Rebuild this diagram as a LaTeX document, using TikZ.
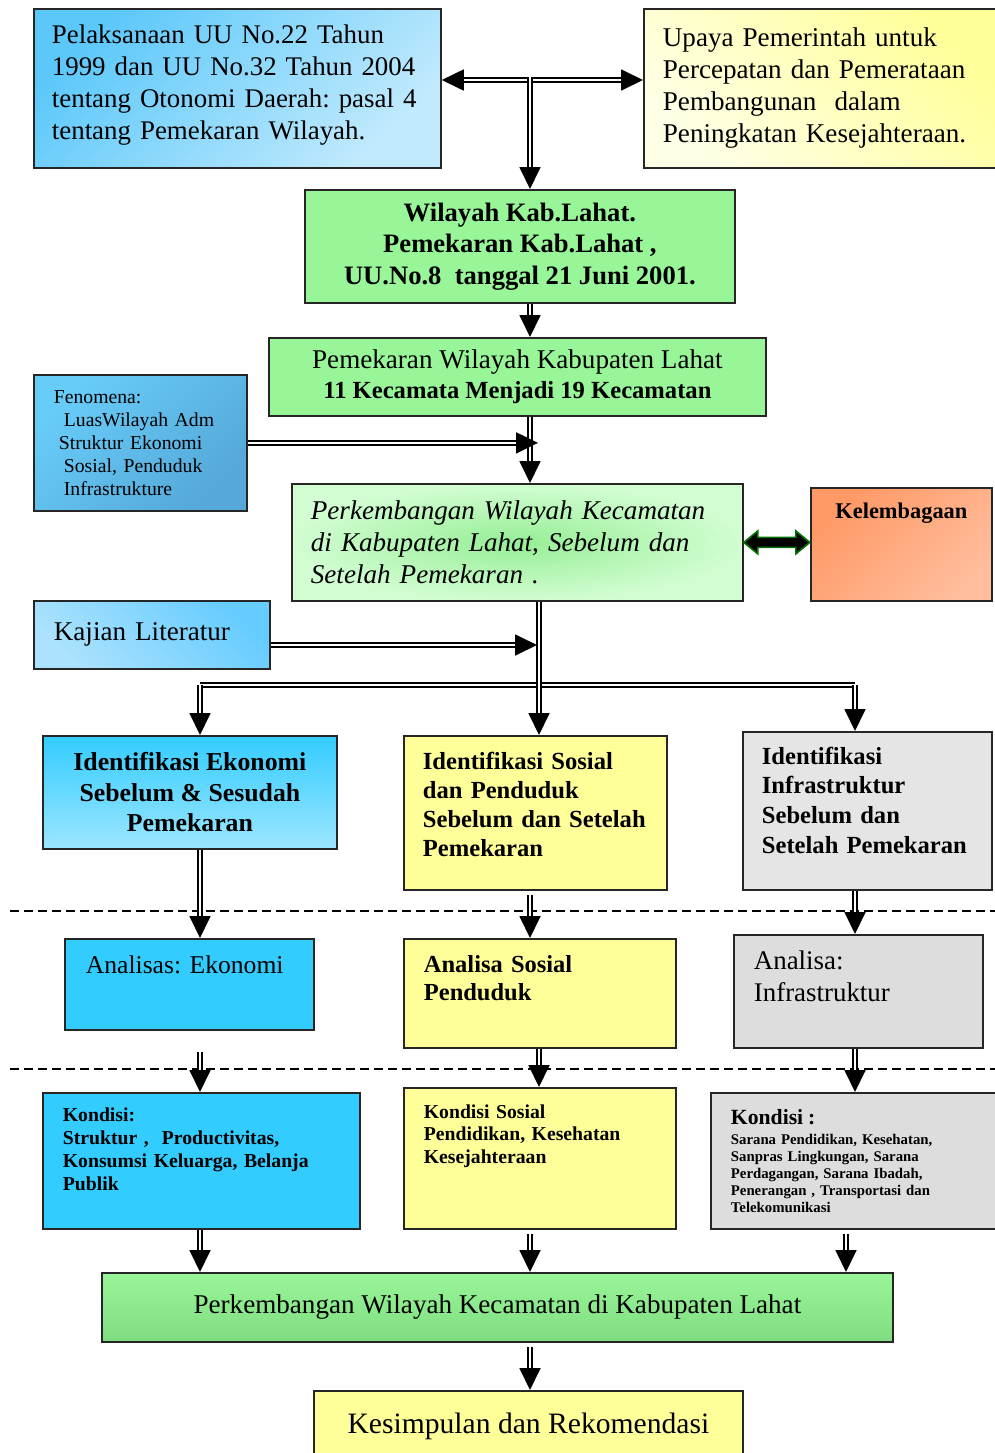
\documentclass[tikz,border=0pt]{standalone}
\usepackage{fontspec}
\setmainfont{Liberation Serif}
\usetikzlibrary{arrows.meta,positioning}
\definecolor{skyA}{HTML}{5CC8FA}
\definecolor{skyB}{HTML}{C2EAFD}
\definecolor{lemon}{HTML}{FFFF99}
\definecolor{lemonL}{HTML}{FFFFE6}
\definecolor{mint}{HTML}{98F598}
\definecolor{mintD}{HTML}{80DC80}
\definecolor{mintM}{HTML}{96EE96}
\definecolor{mintL}{HTML}{D2FDD2}
\definecolor{fenA}{HTML}{68CCF8}
\definecolor{fenB}{HTML}{55A8D8}
\definecolor{peach}{HTML}{FF9966}
\definecolor{peachL}{HTML}{FFBD9C}
\definecolor{cyanA}{HTML}{33CCFF}
\definecolor{cyanB}{HTML}{9CE6FF}
\definecolor{kajA}{HTML}{ACE2FD}
\definecolor{kajB}{HTML}{66CCFF}
\definecolor{greyA}{HTML}{DDDDDD}
\definecolor{greyB}{HTML}{E5E5E5}
\newcommand{\topbox}[2]{\parbox[t][#1][t]{\linewidth}{#2}}
\frenchspacing
\begin{document}
\begin{tikzpicture}[x=0.5pt,y=-0.5pt,
  box/.style={draw=black!85,line width=0.9pt,anchor=north west,inner sep=0pt,align=left},
  dl/.style={double,double distance=1.2pt,line width=0.9pt},
  arr/.style={dl,-{Triangle[length=11pt,width=10.5pt]}},
  sep/.style={dash pattern=on 4.5pt off 2.5pt,line width=0.7pt}]
\useasboundingbox (0,0) rectangle (995,1453);
% boxes
\node[box,minimum width=203.5pt,minimum height=79.5pt,inner xsep=9pt,inner ysep=7.5pt,text width=185.5pt,
  top color=skyA,bottom color=skyB,shading angle=45,font=\fontsize{13.45}{16}\selectfont] (uu) at (33,8)
  {\topbox{64pt}{Pelaksanaan UU No.22 Tahun\\1999 dan UU No.32 Tahun 2004\\tentang Otonomi Daerah: pasal 4\\tentang Pemekaran Wilayah.}};
\node[box,minimum width=177pt,minimum height=79.5pt,inner xsep=9.5pt,text width=158pt,
  top color=lemon,bottom color=lemonL,shading angle=-45,font=\fontsize{13.55}{16}\selectfont] (up) at (643,8)
  {Upaya Pemerintah untuk\\Percepatan dan Pemerataan\\Pembangunan\ \ dalam\\Peningkatan Kesejahteraan.};
\node[box,minimum width=215pt,minimum height=56.5pt,align=center,fill=mint,
  font=\fontsize{13.3}{15.75}\selectfont\bfseries] (wil) at (304,189)
  {Wilayah Kab.Lahat.\\Pemekaran Kab.Lahat ,\\UU.No.8\ \ tanggal 21 Juni 2001.};
\node[box,minimum width=248.5pt,minimum height=39pt,align=center,fill=mint,
  font=\fontsize{13.55}{15}\selectfont] (pwk) at (268,337)
  {Pemekaran Wilayah Kabupaten Lahat\\\textbf{\fontsize{12.3}{15}\selectfont 11 Kecamata Menjadi 19 Kecamatan}};
\node[box,minimum width=106.5pt,minimum height=68pt,inner xsep=10pt,text width=86.5pt,
  top color=fenA,bottom color=fenB,shading angle=45,font=\fontsize{9.85}{11.5}\selectfont] (fen) at (33,374)
  {Fenomena:\\\hspace*{5pt}LuasWilayah Adm\\\hspace*{2.5pt}Struktur Ekonomi\\\hspace*{5pt}Sosial, Penduduk\\\hspace*{5pt}Infrastrukture};
\node[box,minimum width=225.5pt,minimum height=58.5pt,inner xsep=9.5pt,text width=206.5pt,
  inner color=mintM,outer color=mintL,font=\fontsize{13.55}{16}\selectfont\itshape] (pkw) at (291,483)
  {Perkembangan Wilayah Kecamatan\\di Kabupaten Lahat, Sebelum dan\\Setelah Pemekaran .};
\node[box,minimum width=90.5pt,minimum height=56.5pt,inner xsep=4pt,inner ysep=7.7pt,text width=82.5pt,
  top color=peach,bottom color=peachL,shading angle=45,font=\fontsize{11.2}{13}\selectfont\bfseries] (lem) at (810,487)
  {\topbox{41pt}{\centering Kelembagaan}};
\node[box,minimum width=118pt,minimum height=34pt,inner xsep=10pt,text width=98pt,
  top color=kajB,bottom color=kajA,shading angle=-45,font=\fontsize{13.55}{16}\selectfont] (kaj) at (33,600)
  {Kajian Literatur};
\node[box,minimum width=147pt,minimum height=56.5pt,align=center,top color=cyanA,bottom color=cyanB,
  font=\fontsize{12.9}{15.25}\selectfont\bfseries] (ie) at (42,735)
  {Identifikasi Ekonomi\\Sebelum \& Sesudah\\Pemekaran};
\node[box,minimum width=131.5pt,minimum height=77pt,inner xsep=9.5pt,inner ysep=7.9pt,text width=112.5pt,
  fill=lemon,font=\fontsize{12.3}{14.5}\selectfont\bfseries] (is) at (403,735)
  {\topbox{61pt}{Identifikasi Sosial\\dan Penduduk\\Sebelum dan Setelah\\Pemekaran}};
\node[box,minimum width=124.5pt,minimum height=79pt,inner xsep=9.5pt,inner ysep=7.4pt,text width=105.5pt,
  fill=greyB,font=\fontsize{12.3}{14.8}\selectfont\bfseries] (ii) at (742,731)
  {\topbox{64pt}{Identifikasi\\Infrastruktur\\Sebelum dan\\Setelah Pemekaran}};
\node[box,minimum width=124.5pt,minimum height=45.5pt,inner xsep=10.5pt,inner ysep=8.1pt,text width=103.5pt,
  fill=cyanA,font=\fontsize{12.8}{16}\selectfont] (ae) at (64,938)
  {\topbox{29pt}{Analisas: Ekonomi}};
\node[box,minimum width=136pt,minimum height=54.5pt,inner xsep=10pt,inner ysep=8.4pt,text width=116pt,
  fill=lemon,font=\fontsize{12.25}{14}\selectfont\bfseries] (as) at (403,938)
  {\topbox{37.5pt}{Analisa Sosial\\Penduduk}};
\node[box,minimum width=124.5pt,minimum height=56.5pt,inner xsep=10pt,inner ysep=7.7pt,text width=104.5pt,
  fill=greyA,font=\fontsize{13.45}{16}\selectfont] (ai) at (733,934)
  {\topbox{41pt}{Analisa:\\Infrastruktur}};
\node[box,minimum width=158.5pt,minimum height=68pt,inner xsep=10pt,inner ysep=7.1pt,text width=138.5pt,
  fill=cyanA,font=\fontsize{9.85}{11.5}\selectfont\bfseries] (ke) at (42,1092)
  {\topbox{53.5pt}{Kondisi:\\Struktur ,\ \ Productivitas,\\Konsumsi Keluarga, Belanja\\Publik}};
\node[box,minimum width=136pt,minimum height=70.5pt,inner xsep=10pt,inner ysep=8.1pt,text width=116pt,
  fill=lemon,font=\fontsize{9.85}{11.35}\selectfont\bfseries] (ks) at (403,1087)
  {\topbox{54pt}{Kondisi Sosial\\Pendidikan, Kesehatan\\Kesejahteraan}};
\node[box,minimum width=143.5pt,minimum height=68pt,inner xsep=10pt,text width=123.5pt,
  fill=greyA,font=\fontsize{7.4}{8.5}\selectfont\bfseries] (ki) at (710,1092)
  {{\fontsize{10.85}{13}\selectfont Kondisi :}\\[1.5pt]Sarana Pendidikan, Kesehatan,\\Sanpras Lingkungan, Sarana\\Perdagangan, Sarana Ibadah,\\Penerangan , Transportasi dan\\Telekomunikasi};
\node[box,minimum width=395.5pt,minimum height=34.5pt,align=center,top color=mint,bottom color=mintD,
  font=\fontsize{13.55}{16}\selectfont] (pb) at (101,1272)
  {Perkembangan Wilayah Kecamatan di Kabupaten Lahat};
\node[box,minimum width=214.5pt,minimum height=35pt,align=center,fill=lemon,
  font=\fontsize{14.8}{18}\selectfont] (kes) at (313,1390)
  {Kesimpulan dan Rekomendasi};
% separators
\draw[sep] (10,911) -- (995,911);
\draw[sep] (10,1069) -- (995,1069);
% junctions
\coordinate (ta) at (530,80);
\coordinate (fa) at (538,443);
\coordinate (ka) at (537,645);
\coordinate (hl) at (200,685);
\coordinate (hr) at (855,685);
\coordinate (xa) at (200,0);
\coordinate (xb) at (530,0);
\coordinate (xc) at (539,0);
\coordinate (xd) at (855,0);
\coordinate (xe) at (846,0);
% connectors
\draw[dl,{Triangle[length=11pt,width=10.5pt]}-{Triangle[length=11pt,width=10.5pt]}] (ta -| uu.east) -- (ta -| up.west);
\draw[arr] ([yshift=1.5pt]ta) -- (ta |- wil.north);
\draw[arr] (wil.south -| xb) -- (pwk.north -| xb);
\draw[arr] (pwk.south -| xb) -- (pkw.north -| xb);
\draw[arr] (fen.east) -- (fen.east -| fa);
\draw[arr] (ka -| kaj.east) -- (ka);
\draw[dl] (hl) -- (hr);
\draw[arr] (hl) -- (hl |- ie.north);
\draw[arr] (hr) -- (hr |- ii.north);
\draw[arr] (pkw.south -| xc) -- (is.north -| xc);
\draw[arr] (ie.south -| xa) -- (ae.north -| xa);
\draw[arr,shorten <=2pt] (is.south -| xb) -- (as.north -| xb);
\draw[arr] (ii.south -| xd) -- (ai.north -| xd);
\draw[arr,shorten <=10.5pt] (ae.south -| xa) -- (ke.north -| xa);
\draw[arr] (as.south -| xc) -- (ks.north -| xc);
\draw[arr] (ai.south -| xd) -- (ki.north -| xd);
\draw[arr] (ke.south -| xa) -- (pb.north -| xa);
\draw[arr,shorten <=2pt] (ks.south -| xb) -- (pb.north -| xb);
\draw[arr,shorten <=2pt] (ki.south -| xe) -- (pb.north -| xe);
\draw[arr,shorten <=2pt] (pb.south -| xb) -- (kes.north -| xb);
\draw[fill=black,draw=green!45!black,line width=0.8pt] (pkw.east) -- ++(14,-11.5) -- ++(0,6.5) -- ++(38,0)
  -- ++(0,-6.5) -- ++(14,11.5) -- ++(-14,11.5) -- ++(0,-6.5) -- ++(-38,0) -- ++(0,6.5) -- cycle;
\end{tikzpicture}
\end{document}
